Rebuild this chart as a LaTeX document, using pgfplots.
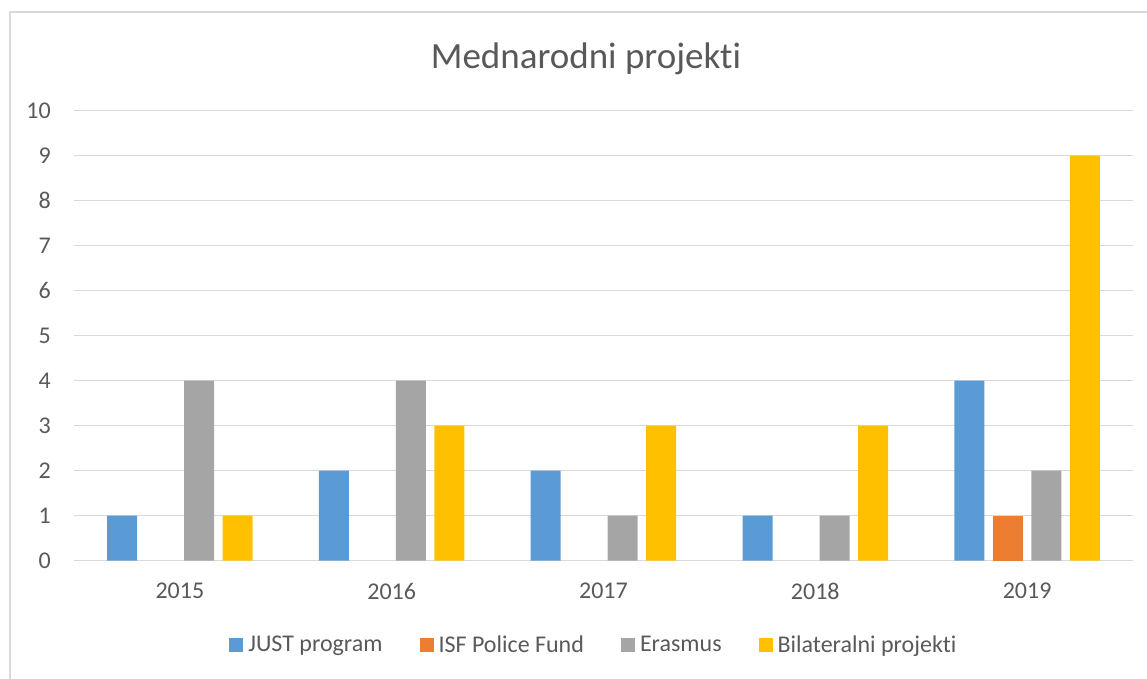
\documentclass[border=0pt]{standalone}
\usepackage{fontspec}
\setmainfont{Carlito}[Ligatures={NoCommon}]
\usepackage{pgfplots}
\pgfplotsset{compat=1.18}
\definecolor{cblue}{HTML}{5B9BD5}
\definecolor{corange}{HTML}{ED7D31}
\definecolor{cgray}{HTML}{A5A5A5}
\definecolor{cyellow}{HTML}{FFC000}
\definecolor{gridgray}{HTML}{D9D9D9}
\definecolor{textgray}{HTML}{595959}
\begin{document}
\begin{tikzpicture}[x=1pt,y=1pt]
\useasboundingbox (0,0) rectangle (1147,-678);
\begin{scope}
\clip (0,0) rectangle (1147,-678);
\draw[gridgray, line width=1.3pt] (10,-12) rectangle (1175,-705);
\end{scope}
\begin{axis}[
  at={(74pt,-560.7pt)}, anchor=south west,
  scale only axis, width=1059pt, height=450pt,
  xmin=-0.5, xmax=4.5, ymin=0, ymax=10,
  ybar=8.5pt, bar width=30pt,
  xtick={0,1,2,3,4}, xticklabels={2015,2016,2017,2018,2019},
  ytick={0,1,2,3,4,5,6,7,8,9,10},
  ymajorgrids, grid style={gridgray, line width=1.3pt},
  axis line style={draw=none},
  major tick length=0pt,
  tick label style={font=\fontsize{24}{28}\selectfont, text=textgray},
  yticklabel style={anchor=east, inner sep=0pt, xshift=-23pt},
  xticklabel style={anchor=north, inner sep=0pt, yshift=-22pt},
  /pgf/number format/assume math mode=true,
  title={Mednarodni projekti},
  title style={at={(0.4835,1.08)}, anchor=base, font=\fontsize{37}{44}\selectfont, text=textgray},
  legend columns=4,
  legend style={draw=none, fill=none, at={(0.49,-0.187)}, anchor=center,
    font=\fontsize{24}{28}\selectfont, text=textgray,
    nodes={inner sep=0pt}, cells={anchor=west},
    /tikz/column 1/.style={column sep=5pt},
    /tikz/column 2/.style={column sep=37pt},
    /tikz/column 3/.style={column sep=5pt},
    /tikz/column 4/.style={column sep=37pt},
    /tikz/column 5/.style={column sep=5pt},
    /tikz/column 6/.style={column sep=37pt},
    /tikz/column 7/.style={column sep=5pt}},
  legend image code/.code={\fill[#1] (0pt,-7pt) rectangle (14pt,7pt);},
]
\addplot[fill=cblue, draw=none] coordinates {(0,1)(1,2)(2,2)(3,1)(4,4)};
\addplot[fill=corange, draw=none] coordinates {(4,1)};
\addplot[fill=cgray, draw=none] coordinates {(0,4)(1,4)(2,1)(3,1)(4,2)};
\addplot[fill=cyellow, draw=none] coordinates {(0,1)(1,3)(2,3)(3,3)(4,9)};
\legend{JUST program, ISF Police Fund, Erasmus, Bilateralni projekti}
\end{axis}
\end{tikzpicture}
\end{document}
